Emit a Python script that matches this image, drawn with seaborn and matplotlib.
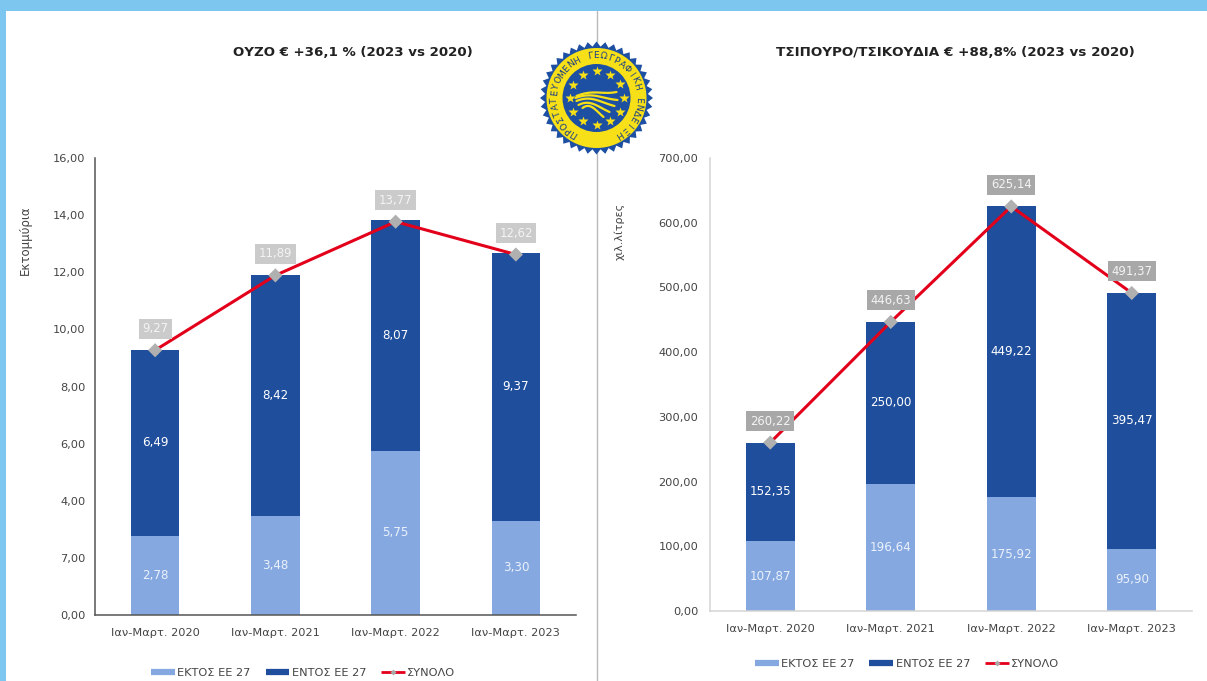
import numpy as np
import pandas as pd
import matplotlib
matplotlib.use("Agg")
import matplotlib.pyplot as plt
from matplotlib.lines import Line2D
from matplotlib.patches import Circle, Polygon, Rectangle
import seaborn as sns

periods = ["Ιαν-Μαρτ. 2020", "Ιαν-Μαρτ. 2021", "Ιαν-Μαρτ. 2022", "Ιαν-Μαρτ. 2023"]

ouzo_outside = [2.78, 3.48, 5.75, 3.30]
ouzo_inside = [6.49, 8.42, 8.07, 9.37]
ouzo_total = [9.27, 11.89, 13.77, 12.62]
ouzo_ticks = [0, 2, 4, 6, 8, 10, 12, 14, 16]
ouzo_ticklabels = ["0,00", "7,00", "4,00", "6,00", "8,00", "10,00", "12,00", "14,00", "16,00"]

tsip_outside = [107.87, 196.64, 175.92, 95.90]
tsip_inside = [152.35, 250.00, 449.22, 395.47]
tsip_total = [260.22, 446.63, 625.14, 491.37]
tsip_ticks = [0, 100, 200, 300, 400, 500, 600, 700]
tsip_ticklabels = ["0,00", "100,00", "200,00", "300,00", "400,00", "500,00", "600,00", "700,00"]

W, H = 1207, 681
LIGHT = "#86a8e0"
DARK = "#1f4e9c"
RED = "#e3001b"
TXT = "#444444"

sns.set_theme(style="white")
plt.rcParams["font.family"] = ["DejaVu Sans"]

fig = plt.figure(figsize=(W / 100, H / 100), dpi=100, facecolor="white")


def box(x0, ytop, x1, ybot):
    return [x0 / W, 1 - ybot / H, (x1 - x0) / W, (ybot - ytop) / H]


# page decoration
bg = fig.add_axes([0, 0, 1, 1], zorder=0)
bg.set_xlim(0, W)
bg.set_ylim(H, 0)
bg.axis("off")
bg.add_patch(Rectangle((0, 0), W, 11, color="#7cc6ef", lw=0))
bg.add_patch(Rectangle((0, 0), 6, H, color="#7cc6ef", lw=0))
bg.plot([597, 597], [11, H], color="#b9b9b9", lw=1)


def panel(rect, outside, inside, total, ticks, ticklabels, ymax, fmt, spine, lab_bg, ypad, leg_x, leg_y):
    ax = fig.add_axes(box(*rect), zorder=2)
    ax.patch.set_alpha(0)
    sns.barplot(x=periods, y=outside, color=LIGHT, width=0.405, saturation=1, ax=ax, zorder=2, linewidth=0)
    sns.barplot(x=periods, y=inside, bottom=outside, color=DARK, width=0.405, saturation=1, ax=ax, zorder=2, linewidth=0)
    sns.lineplot(x=periods, y=total, sort=False, color=RED, lw=2.2, ax=ax, zorder=3, errorbar=None)
    sns.scatterplot(x=periods, y=total, marker="D", s=52, color="#b0b0b0", edgecolor="none", ax=ax, zorder=4)
    ax.set_xlim(-0.5, 3.5)
    ax.set_ylim(0, ymax)
    ax.set_yticks(ticks)
    ax.set_yticklabels(ticklabels)
    ax.set_xlabel("")
    ax.set_ylabel("")
    ax.tick_params(axis="both", length=0, labelsize=8.2, labelcolor=TXT)
    ax.tick_params(axis="x", pad=9)
    ax.tick_params(axis="y", pad=ypad)
    for s in ("top", "right"):
        ax.spines[s].set_visible(False)
    for s in ("left", "bottom"):
        ax.spines[s].set_color(spine)
        ax.spines[s].set_linewidth(1.1)
    for i in range(len(periods)):
        ax.text(i, outside[i] / 2, fmt(outside[i]), color="#eaf1fb", ha="center", va="center", fontsize=8.6, zorder=5)
        ax.text(i, outside[i] + inside[i] / 2, fmt(inside[i]), color="white", ha="center", va="center", fontsize=8.6, zorder=5)
        ax.annotate(fmt(total[i]), (i, total[i]), xytext=(0, 15.5), textcoords="offset points",
                    ha="center", va="center", color="#f4f4f4", fontsize=8.4, zorder=6,
                    bbox=dict(boxstyle="square,pad=0.3", fc=lab_bg, ec="none"))
    handles = [
        Line2D([], [], color=LIGHT, lw=4.5, solid_capstyle="butt"),
        Line2D([], [], color=DARK, lw=4.5, solid_capstyle="butt"),
        Line2D([], [], color=RED, lw=2, marker="D", ms=3, mfc="#a9a9a9", mec="none", solid_capstyle="butt"),
    ]
    ax.legend(handles, ["ΕΚΤΟΣ ΕΕ 27", "ΕΝΤΟΣ ΕΕ 27", "ΣΥΝΟΛΟ"], loc="upper center",
              bbox_to_anchor=(leg_x, leg_y), ncol=3, frameon=False, fontsize=8.2,
              labelcolor=TXT, handlelength=2.1, handletextpad=0.2, columnspacing=1.3)
    return ax


fmt2 = lambda v: f"{v:.2f}".replace(".", ",")
panel((95, 158, 576, 615), ouzo_outside, ouzo_inside, ouzo_total, ouzo_ticks, ouzo_ticklabels,
      16, fmt2, "#555555", "#cbcbcb", 7, 0.433, -0.0936)
panel((710, 158, 1192, 611), tsip_outside, tsip_inside, tsip_total, tsip_ticks, tsip_ticklabels,
      700, fmt2, "#d4d4d4", "#a8a8a8", 8.5, 0.409, -0.0826)

# titles and axis names
fig.text(352.5 / W, 1 - 53 / H, "ΟΥΖΟ € +36,1 % (2023 vs 2020)", ha="center", va="center",
         fontsize=9.6, fontweight="bold", color="#222222")
fig.text(955.5 / W, 1 - 53 / H, "ΤΣΙΠΟΥΡΟ/ΤΣΙΚΟΥΔΙΑ € +88,8% (2023 vs 2020)", ha="center", va="center",
         fontsize=9.7, fontweight="bold", color="#222222")
fig.text(25 / W, 1 - 240 / H, "Εκτομμύρια", rotation=90, ha="center", va="center", fontsize=8.5, color=TXT)
fig.text(619 / W, 1 - 231 / H, "χιλ.λίτρες", rotation=90, ha="center", va="center", fontsize=8.0, color=TXT)

# emblem
logo = fig.add_axes([0, 0, 1, 1], zorder=3)
logo.set_xlim(0, W)
logo.set_ylim(H, 0)
logo.axis("off")
cx, cy = 596.5, 98.0
NAVY, YEL = "#1d4fa3", "#f7e017"
n = 80
ang = np.linspace(0, 2 * np.pi, n, endpoint=False)
rad = np.where(np.arange(n) % 2 == 0, 56.5, 51.5)
logo.add_patch(Polygon(np.c_[cx + rad * np.cos(ang), cy + rad * np.sin(ang)], closed=True, fc=NAVY, ec="none"))
logo.add_patch(Circle((cx, cy), 50, fc=YEL, ec="none"))
logo.add_patch(Circle((cx, cy), 34, fc=NAVY, ec="none"))
ring = "ΠΡΟΣΤΑΤΕΥΟΜΕΝΗ ΓΕΩΓΡΑΦΙΚΗ ΕΝΔΕΙΞΗ"
for i, ch in enumerate(ring):
    a = 122 + i * 296 / (len(ring) - 1)
    r = np.radians(a)
    logo.text(cx + 42 * np.cos(r), cy + 42 * np.sin(r), ch, rotation=-(a + 90), rotation_mode="anchor",
              ha="center", va="center", fontsize=6.6, color="#1b3f86")
for k in range(12):
    r = np.radians(k * 30)
    logo.plot(cx + 27 * np.cos(r), cy + 27 * np.sin(r), marker="*", ms=7.5, color=YEL, mec="none")
t = np.linspace(0, 1, 30)
for y0, y1, x0, x1 in [(-2, -6, -20, 20), (0, 2, -21, 21), (3, 8, -20, 18), (7, 14, -18, 13), (10, 19, -14, 7)]:
    xs = x0 + (x1 - x0) * t
    ys = y0 + (y1 - y0) * t ** 2 - 5 * np.sin(np.pi * t) * (1 - t)
    logo.plot(cx + xs, cy + ys, color=YEL, lw=1.6, solid_capstyle="round")

fig.savefig("out.png", dpi=100, facecolor="white")
